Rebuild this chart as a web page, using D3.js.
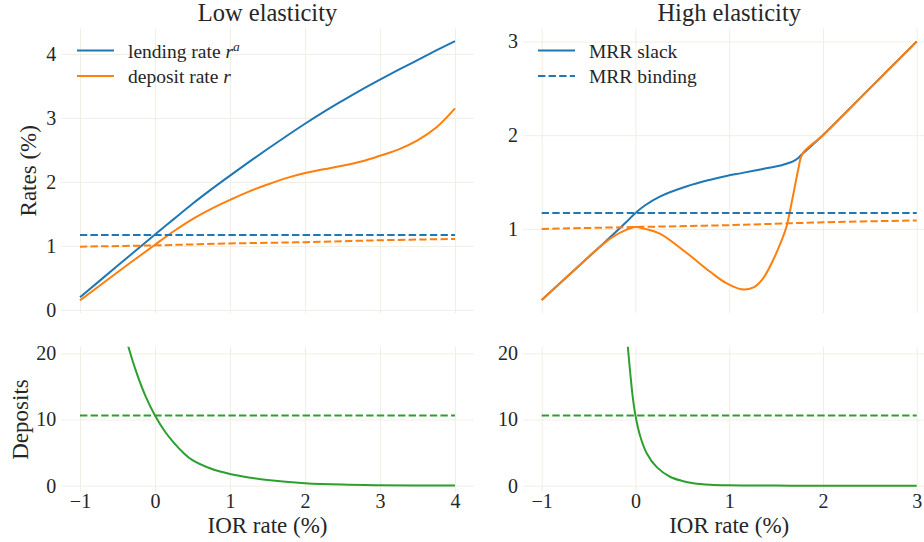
<!DOCTYPE html>
<html>
<head>
<meta charset="utf-8">
<script src="https://cdn.jsdelivr.net/npm/d3@7"></script>
<style>
  body { margin: 0; background: #fff; }
  svg { display: block; }
</style>
</head>
<body>
<svg id="chart" width="924" height="542"></svg>
<script>
// ---- Low elasticity: rates (%) against the IOR rate (%) ----
const lowIOR      = [-1, -0.5, 0, 0.25, 0.5, 0.75, 1, 1.25, 1.5, 1.75, 2, 2.25, 2.5, 2.75, 3, 3.25, 3.5, 3.75, 4];
const lowLending  = [0.20, 0.69, 1.18, 1.42, 1.66, 1.885, 2.10, 2.31, 2.515, 2.715, 2.91, 3.095, 3.27, 3.44, 3.60, 3.755, 3.905, 4.055, 4.20];
const lowDeposit  = [0.15, 0.59, 1.02, 1.23, 1.42, 1.58, 1.72, 1.85, 1.96, 2.06, 2.14, 2.20, 2.255, 2.32, 2.41, 2.51, 2.65, 2.85, 3.15];
const lowBindIOR     = [-1, 0, 1, 2, 3, 4];
const lowBindLending = [1.17, 1.17, 1.17, 1.17, 1.17, 1.17];
const lowBindDeposit = [0.99, 1.01, 1.04, 1.06, 1.09, 1.11];

// ---- High elasticity: rates (%) against the IOR rate (%) ----
const highIOR     = [-1, -0.75, -0.5, -0.4, -0.25, -0.1, 0, 0.1, 0.26, 0.55, 0.8, 0.97, 1.13, 1.26, 1.36, 1.47, 1.56, 1.61, 1.68, 1.74, 1.78, 2, 2.5, 3];
const highLending = [0.24, 0.47, 0.70, 0.79, 0.93, 1.07, 1.17, 1.25, 1.345, 1.455, 1.525, 1.565, 1.595, 1.62, 1.64, 1.66, 1.68, 1.695, 1.72, 1.76, 1.80, 2.0, 2.5, 3.0];
const highDeposit = [0.24, 0.47, 0.70, 0.79, 0.91, 0.99, 1.02, 1.00, 0.95, 0.74, 0.54, 0.42, 0.355, 0.376, 0.47, 0.67, 0.88, 1.02, 1.35, 1.65, 1.80, 2.0, 2.5, 3.0];
const highBindIOR     = [-1, 0, 1, 2, 3];
const highBindLending = [1.17, 1.17, 1.17, 1.17, 1.17];
const highBindDeposit = [1.00, 1.02, 1.04, 1.07, 1.09];

// ---- Deposits against the IOR rate (%) ----
const lowDepIOR   = [-0.45, -0.35, -0.25, -0.125, 0, 0.125, 0.25, 0.375, 0.5, 0.75, 1, 1.25, 1.5, 2, 2.5, 3, 3.5, 4];
const lowDeposits = [25.0, 20.8, 17.2, 13.5, 10.6, 8.3, 6.5, 5.0, 3.85, 2.55, 1.77, 1.25, 0.86, 0.38, 0.16, 0.07, 0.03, 0.01];
const highDepIOR   = [-0.1, -0.083, -0.058, -0.029, 0, 0.05, 0.12, 0.227, 0.369, 0.5, 0.617, 0.8, 1, 1.5, 2, 3];
const highDeposits = [24.5, 21.25, 17.4, 13.4, 10.6, 7.5, 4.9, 2.8, 1.35, 0.72, 0.38, 0.14, 0.05, 0.01, 0.0, 0.0];
const lowBindDepIOR  = [-1, 4];
const lowBindDeps    = [10.6, 10.6];
const highBindDepIOR = [-1, 3];
const highBindDeps   = [10.6, 10.6];

// ---- tick values and labels ----
const lowXTicks   = [-1, 0, 1, 2, 3, 4];
const highXTicks  = [-1, 0, 1, 2, 3];
const lowRateTicks  = [0, 1, 2, 3, 4];
const highRateTicks = [1, 2, 3];
const depTicks      = [0, 10, 20];
const titles = ["Low elasticity", "High elasticity"];

const FONT = "'Liberation Serif', 'DejaVu Serif', serif";
const INK = "#262626";
const BLUE = "#1f77b4", ORANGE = "#ff7f0e", GREEN = "#2ca02c";
const GRID = "#f1eee3";
const DASH = "7.4,3.2";
const LW = 2;

const svg = d3.select("#chart");
svg.append("rect").attr("width", 924).attr("height", 542).attr("fill", "#fff");

// panel geometry
const TOP = [28.4, 313.2], BOT = [346.7, 492.3];
const xLow  = d3.scaleLinear().domain([-1.25, 4.25]).range([61.25, 473.75]);
const xHigh = d3.scaleLinear().domain([-1.2, 3.2]).range([522.95, 935.45]);
const yRatesLow  = d3.scaleLinear().domain([-0.05, 4.4]).range([TOP[1], TOP[0]]);
const yRatesHigh = d3.scaleLinear().domain([0.1, 3.14]).range([TOP[1], TOP[0]]);
const yDepLow  = d3.scaleLinear().domain([-1, 21]).range([BOT[1], BOT[0]]);
const yDepHigh = yDepLow.copy();

const fmt = v => (v < 0 ? "\u2212" + Math.abs(v) : String(v));
const zip = (xs, ys) => xs.map((x, i) => [x, ys[i]]);
const styleLabels = s => s.selectAll("text")
  .attr("font-size", 20).attr("font-family", FONT).attr("fill", INK);

let clipId = 0;
function panel(x, y, xTicks, yTicks, showXLabels) {
  const [x0, x1] = x.range();
  const [yb, yt] = y.range();
  const g = svg.append("g");
  // grid lines
  g.append("g").attr("transform", `translate(0,${yb})`)
    .call(d3.axisBottom(x).tickValues(xTicks).tickSize(-(yb - yt)).tickFormat(""))
    .call(s => s.select(".domain").remove())
    .call(s => s.selectAll("line").attr("stroke", GRID).attr("stroke-width", 1));
  g.append("g").attr("transform", `translate(${x0},0)`)
    .call(d3.axisLeft(y).tickValues(yTicks).tickSize(-(x1 - x0)).tickFormat(""))
    .call(s => s.select(".domain").remove())
    .call(s => s.selectAll("line").attr("stroke", GRID).attr("stroke-width", 1));
  // y tick labels
  g.append("g").attr("transform", `translate(${x0},0)`)
    .call(d3.axisLeft(y).tickValues(yTicks).tickSize(0).tickPadding(5).tickFormat(fmt))
    .call(s => s.select(".domain").remove())
    .call(styleLabels);
  if (showXLabels) {
    g.append("g").attr("transform", `translate(0,${yb})`)
      .call(d3.axisBottom(x).tickValues(xTicks).tickSize(0).tickPadding(1.5).tickFormat(fmt))
      .call(s => s.select(".domain").remove())
      .call(styleLabels);
  }
  const id = "clip" + (clipId++);
  svg.append("clipPath").attr("id", id)
    .append("rect").attr("x", x0).attr("y", yt).attr("width", x1 - x0).attr("height", yb - yt);
  const plot = g.append("g").attr("clip-path", `url(#${id})`);
  const line = d3.line().x(d => x(d[0])).y(d => y(d[1])).curve(d3.curveCatmullRom.alpha(0.5));
  return {
    draw(data, color, dashed) {
      plot.append("path").datum(data)
        .attr("d", line).attr("fill", "none")
        .attr("stroke", color).attr("stroke-width", LW)
        .attr("stroke-linejoin", "round")
        .attr("stroke-dasharray", dashed ? DASH : null);
    }
  };
}

// ---- panels ----
const pTL = panel(xLow, yRatesLow, lowXTicks, lowRateTicks, false);
pTL.draw(zip(lowIOR, lowLending), BLUE, false);
pTL.draw(zip(lowIOR, lowDeposit), ORANGE, false);
pTL.draw(zip(lowBindIOR, lowBindLending), BLUE, true);
pTL.draw(zip(lowBindIOR, lowBindDeposit), ORANGE, true);

const pTR = panel(xHigh, yRatesHigh, highXTicks, highRateTicks, false);
pTR.draw(zip(highIOR, highLending), BLUE, false);
pTR.draw(zip(highIOR, highDeposit), ORANGE, false);
pTR.draw(zip(highBindIOR, highBindLending), BLUE, true);
pTR.draw(zip(highBindIOR, highBindDeposit), ORANGE, true);

const pBL = panel(xLow, yDepLow, lowXTicks, depTicks, true);
pBL.draw(zip(lowDepIOR, lowDeposits), GREEN, false);
pBL.draw(zip(lowBindDepIOR, lowBindDeps), GREEN, true);

const pBR = panel(xHigh, yDepHigh, highXTicks, depTicks, true);
pBR.draw(zip(highDepIOR, highDeposits), GREEN, false);
pBR.draw(zip(highBindDepIOR, highBindDeps), GREEN, true);

// ---- titles and axis labels ----
const txt = () => svg.append("text").attr("font-family", FONT).attr("fill", INK);
const mid = s => (s.range()[0] + s.range()[1]) / 2;
[xLow, xHigh].forEach((x, i) => {
  txt().attr("x", mid(x)).attr("y", 21).attr("text-anchor", "middle")
    .attr("font-size", 24.5).text(titles[i]);
  txt().attr("x", mid(x)).attr("y", 532.7).attr("text-anchor", "middle")
    .attr("font-size", 23).text("IOR rate (%)");
});
txt().attr("transform", `translate(36,${mid(yRatesLow)}) rotate(-90)`)
  .attr("text-anchor", "middle").attr("font-size", 23).text("Rates (%)");
txt().attr("transform", `translate(27.5,${mid(yDepLow)}) rotate(-90)`)
  .attr("text-anchor", "middle").attr("font-size", 23).text("Deposits");

// ---- legends ----
function legend(x0, rows) {
  rows.forEach((r, i) => {
    const y = 50.5 + i * 25.5;
    svg.append("line").attr("x1", x0).attr("x2", x0 + 37).attr("y1", y).attr("y2", y)
      .attr("stroke", r.color).attr("stroke-width", LW)
      .attr("stroke-dasharray", r.dashed ? DASH : null);
    const t = txt().attr("x", x0 + 51).attr("y", y + 7).attr("font-size", 19.5);
    r.parts.forEach(p => {
      const s = t.append("tspan").text(p.t);
      if (p.it) s.attr("font-style", "italic");
      if (p.sup) s.attr("baseline-shift", "super").attr("font-size", 13.5);
    });
  });
}
legend(77, [
  { color: BLUE, parts: [{ t: "lending rate " }, { t: "r", it: true }, { t: "a", it: true, sup: true }] },
  { color: ORANGE, parts: [{ t: "deposit rate " }, { t: "r", it: true }] }
]);
legend(538, [
  { color: BLUE, parts: [{ t: "MRR slack" }] },
  { color: BLUE, dashed: true, parts: [{ t: "MRR binding" }] }
]);
</script>
</body>
</html>
